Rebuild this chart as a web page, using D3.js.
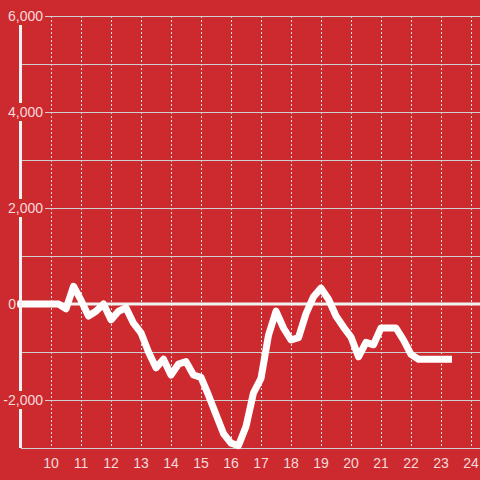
<!DOCTYPE html>
<html>
<head>
<meta charset="utf-8">
<script src="https://cdn.jsdelivr.net/npm/d3@7"></script>
<style>
  body { margin: 0; background: #cd2a2f; }
  text { font-family: "Liberation Sans", Arial, sans-serif; }
</style>
</head>
<body>
<div id="chart"></div>
<script>
// data: hour of day vs value
var hours = [9, 9.25, 9.5, 9.75, 10, 10.25, 10.5, 10.75, 11, 11.25, 11.5, 11.75,
	12, 12.25, 12.5, 12.75, 13, 13.25, 13.5, 13.75, 14, 14.25, 14.5, 14.75,
	15, 15.25, 15.5, 15.75, 16, 16.25, 16.5, 16.75, 17, 17.25, 17.5, 17.75,
	18, 18.25, 18.5, 18.75, 19, 19.25, 19.5, 19.75, 20, 20.25, 20.5, 20.75,
	21, 21.25, 21.5, 21.75, 22, 22.25, 22.5, 22.75, 23, 23.25];
var values = [0, 0, 0, 0, 0, 0, -100, 370, 80, -250, -150, 0,
	-330, -150, -80, -400, -600, -1000, -1330, -1150, -1480, -1250, -1200, -1480,
	-1530, -1900, -2300, -2700, -2900, -2950, -2550, -1850, -1550, -650, -150, -500,
	-750, -700, -200, 150, 330, 100, -250, -480, -690, -1100, -800, -850,
	-500, -500, -500, -750, -1050, -1150, -1150, -1150, -1150, -1150];
var xTicks = [10, 11, 12, 13, 14, 15, 16, 17, 18, 19, 20, 21, 22, 23, 24];
var yTicks = [-2000, 0, 2000, 4000, 6000];
var yMinor = [-3000, -1000, 1000, 3000, 5000];

var w = 480, h = 480;
var x = d3.scaleLinear().domain([9, 24.3]).range([21, 480]);
var y = d3.scaleLinear().domain([-3000, 6000]).range([448, 16]);

var svg = d3.select("#chart").append("svg")
	.attr("width", w).attr("height", h);

svg.append("rect").attr("width", w).attr("height", h).attr("fill", "#cd2a2f");

// vertical dashed grid
svg.append("g").selectAll("line").data(xTicks).enter().append("line")
	.attr("x1", d => x(d) + 0.5).attr("x2", d => x(d) + 0.5)
	.attr("y1", y(6000)).attr("y2", y(-3000))
	.attr("stroke", "#e8e0e0").attr("stroke-width", 1)
	.attr("stroke-dasharray", "2,2");

// horizontal grid
svg.append("g").selectAll("line").data(yTicks.concat(yMinor)).enter().append("line")
	.attr("x1", 21).attr("x2", w)
	.attr("y1", d => y(d) + 0.5).attr("y2", d => y(d) + 0.5)
	.attr("stroke", "#cfcfcf").attr("stroke-width", 1);

// y axis line
svg.append("line")
	.attr("x1", 20.5).attr("x2", 20.5)
	.attr("y1", 24).attr("y2", 448)
	.attr("stroke", "#f2f2f2").attr("stroke-width", 3);

// y labels with background
var yl = svg.append("g").selectAll("g").data(yTicks).enter().append("g")
	.attr("transform", d => "translate(0," + y(d) + ")");
yl.append("rect")
	.attr("x", d => d === 0 ? 8 : 3).attr("y", -9)
	.attr("width", d => d === 0 ? 9 : 42).attr("height", 18)
	.attr("fill", "#cd2a2f");
yl.append("text")
	.attr("x", d => d === 0 ? 16 : 43).attr("dy", "0.35em")
	.attr("text-anchor", "end")
	.attr("font-size", 14)
	.attr("fill", "#f6dada")
	.text(d => d3.format(",")(d).replace("−", "-"));

// zero line
svg.append("line")
	.attr("x1", 17).attr("x2", w)
	.attr("y1", y(0)).attr("y2", y(0))
	.attr("stroke", "#f2f2f2").attr("stroke-width", 3);

// x labels
svg.append("g").selectAll("text").data(xTicks).enter().append("text")
	.attr("x", d => x(d)).attr("y", 468)
	.attr("text-anchor", "middle")
	.attr("font-size", 14)
	.attr("fill", "#f6dada")
	.text(d => d);

// the line
var line = d3.line()
	.x((d, i) => x(hours[i]))
	.y(d => y(d));

svg.append("path")
	.datum(values)
	.attr("d", line)
	.attr("fill", "none")
	.attr("stroke", "#ffffff")
	.attr("stroke-width", 7)
	.attr("stroke-linejoin", "round")
	.attr("stroke-linecap", "square");

// keep axis line on top of line start
svg.append("line")
	.attr("x1", 20.5).attr("x2", 20.5)
	.attr("y1", 296).attr("y2", 312)
	.attr("stroke", "#f2f2f2").attr("stroke-width", 3);
</script>
</body>
</html>
